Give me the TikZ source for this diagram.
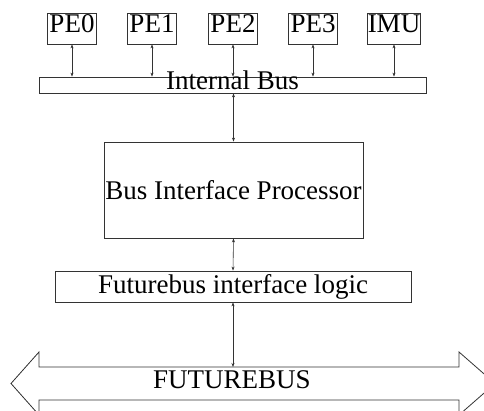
\documentclass[tikz,border=0pt]{standalone}
\usepackage{fontspec}
\setmainfont{Liberation Serif}
\usetikzlibrary{arrows.meta}

\tikzset{
    unit/.style={draw=black!80, line width=0.8pt, inner xsep=0pt, inner ysep=2pt,
        minimum width=49pt, text height=18pt, text depth=9pt},
    block/.style={draw=black!80, line width=0.8pt, inner sep=0pt},
    link/.style={{Stealth[length=4pt,width=3pt]}-{Stealth[length=4pt,width=3pt]},
        black!80, line width=0.6pt}
}

\begin{document}
\begin{tikzpicture}[x=1pt, y=-1pt, font=\fontsize{27}{30}\selectfont]
        \useasboundingbox (0,0) rectangle (484,411);

        % processing elements and memory unit on top
        \foreach \name/\x in {PE0/72, PE1/152, PE2/233, PE3/313, IMU/394}
            \node[unit] (\name) at (\x,28.5) {\name};

        \node[block, minimum width=387pt, text height=13pt, text depth=3pt] (ibus) at (232.5,85) {Internal Bus};
        \node[block, minimum width=259pt, minimum height=96pt] (bip) at (233.5,190) {Bus Interface Processor};
        \node[block, minimum width=356pt, minimum height=31pt] (fil) at (233,286.5) {Futurebus interface logic};

        % the futurebus, drawn as a wide two-headed arrow
        \draw[black!80, line width=0.8pt] (39,367) -- (459,367) -- (459,352) -- (495,383.5) -- (459,415)
            -- (459,400) -- (39,400) -- (39,415) -- (11,383.5) -- (39,352) -- cycle;
        \coordinate (fbtop) at (233,367);
        \node[anchor=base] (fbus) at (232,388) {FUTUREBUS};

        \foreach \name in {PE0,PE1,PE2,PE3,IMU}
            \draw[link] (\name.south) -- (\name.south |- ibus.north);
        \draw[link] (bip.north |- ibus.south) -- (bip.north);
        \draw[link] (bip.south) -- (fil.north);
        \draw[link] (fil.south) -- (fbtop);
        % \draw[red] (0,0) grid[step=50] (484,411);
    \end{tikzpicture}
\end{document}
